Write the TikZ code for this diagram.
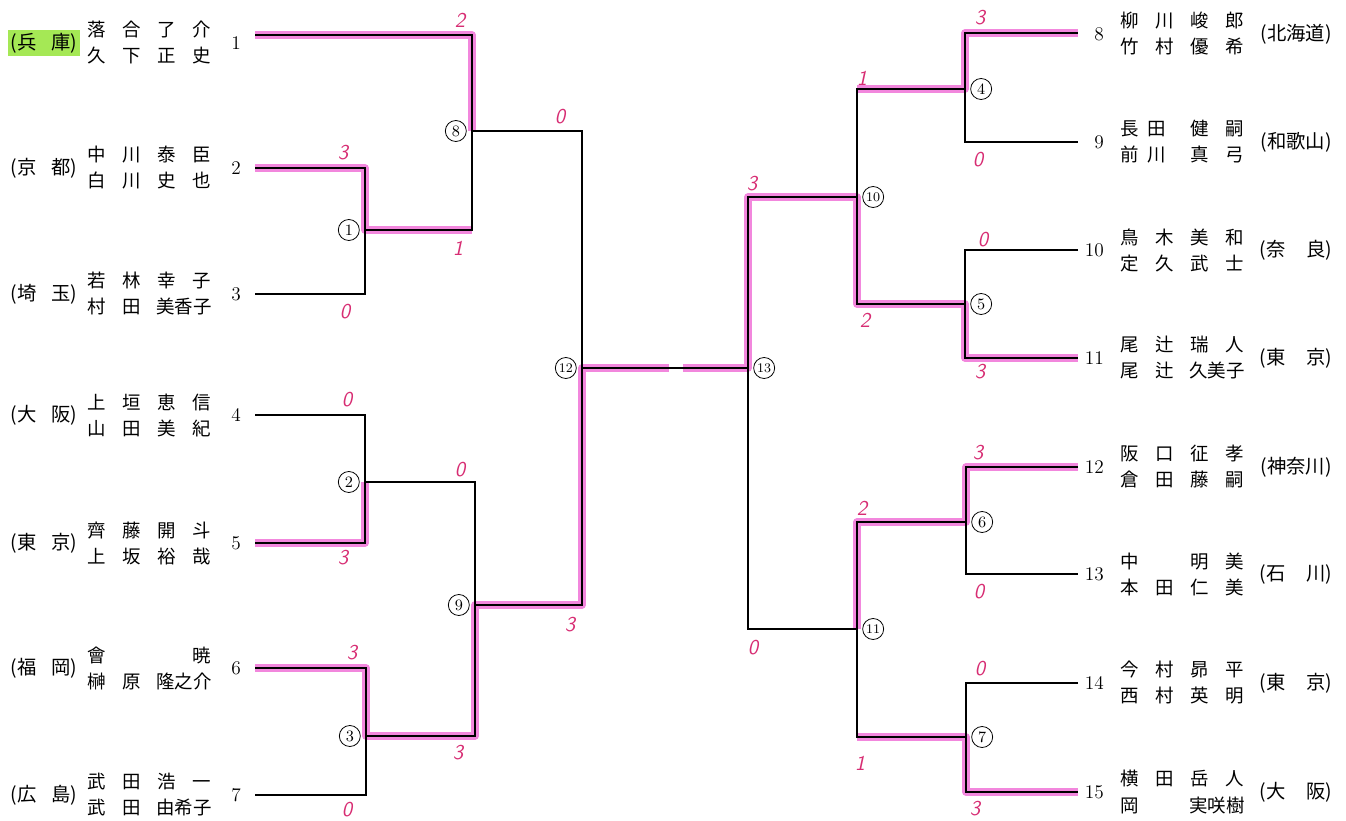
\documentclass[tikz,border=0pt]{standalone}
\usepackage{fontspec}
\usetikzlibrary{positioning}
\newfontfamily\jp{Noto Sans CJK JP}
\definecolor{hlpink}{RGB}{238,95,210}
\definecolor{hlgreen}{RGB}{165,232,85}
\definecolor{score}{RGB}{215,45,115}
\newlength{\cw}
\setlength{\cw}{0.70cm}
\newcommand{\nm}[4]{\makebox[\cw]{#1}\makebox[\cw]{#2}\makebox[\cw]{#3}\makebox[\cw]{#4}}
\newcommand{\nmt}[3]{\makebox[\cw]{#1}\makebox[\cw]{#2}\makebox[2\cw]{#3}}
\newcommand{\nmp}[4]{\makebox[\cw]{#1}\makebox[\cw][l]{#2}\makebox[\cw]{#3}\makebox[\cw]{#4}}
\tikzset{
  bk/.style={line width=0.7pt},
  win/.style={line width=4.2pt, draw=hlpink, opacity=0.75, line join=round},
  mc/.style={circle, draw, line width=0.45pt, minimum size=0.42cm, inner sep=0pt, font=\fontsize{9}{9}\selectfont},
  mcc/.style={mc, font=\fontsize{7.5}{7.5}\selectfont},
  num/.style={font=\fontsize{11}{11}\selectfont, inner sep=1pt},
  nm/.style={font=\jp\fontsize{10.5}{14.8}\selectfont, align=left, inner sep=0pt},
  pf/.style={font=\jp\fontsize{11}{11}\selectfont, inner sep=1.5pt},
  sc/.style={font=\sffamily\itshape\fontsize{12}{12}\selectfont, text=score, inner sep=0pt}
}
\begin{document}
\begin{tikzpicture}[x=0.02cm, y=-0.02cm]
  \useasboundingbox (0,0) rectangle (1346,821);
  % Line ends of the entries
  \foreach \i/\y in {1/35, 2/168, 3/294, 4/415, 5/543, 6/668, 7/795}
    \coordinate (e\i) at (255,\y);
  \foreach \i/\y in {8/33, 9/142, 10/250, 11/358, 12/467, 13/574, 14/683, 15/792}
    \coordinate (e\i) at (1078,\y);
  % Match joints
  \coordinate (j1) at (365,230);
  \coordinate (j2) at (365,482);
  \coordinate (j3) at (366,736);
  \coordinate (j8) at (472,131);
  \coordinate (j9) at (475,605);
  \coordinate (j12) at (582,368);
  \coordinate (j13) at (748,368);
  \coordinate (j10) at (857,197);
  \coordinate (j11) at (857,629);
  \coordinate (j4) at (965,89);
  \coordinate (j5) at (965,304);
  \coordinate (j6) at (966,522);
  \coordinate (j7) at (966,737);
  % Winners, marked by hand
  \draw[win] (e1) -| (j8);
  \draw[win] (e2) -| (j1) -- (j1 -| j8);
  \draw[win] (e5) -| (j2);
  \draw[win] (e6) -| (j3) -| (j9) -| (j12) -- (669,368);
  \draw[win] (683,368) -- (j13) |- (j10) |- (j5) |- (e11);
  \draw[win] (e8) -| (j4) -- (j4 -| j10);
  \draw[win] (e12) -| (j6) -| (j11);
  \draw[win] (e15) -| (j7) -- (j7 -| j11);
  % Left half
  \draw[bk] (e2) -| (j1) |- (e3);
  \draw[bk] (e4) -| (j2) |- (e5);
  \draw[bk] (e6) -| (j3) |- (e7);
  \draw[bk] (e1) -| (j8) |- (j1);
  \draw[bk] (j2) -| (j9) |- (j3);
  \draw[bk] (j8) -| (j12) |- (j9);
  \draw[bk] (j12) -- (j13);
  % Right half
  \draw[bk] (e8) -| (j4) |- (e9);
  \draw[bk] (e10) -| (j5) |- (e11);
  \draw[bk] (e12) -| (j6) |- (e13);
  \draw[bk] (e14) -| (j7) |- (e15);
  \draw[bk] (j4) -| (j10) |- (j5);
  \draw[bk] (j6) -| (j11) |- (j7);
  \draw[bk] (j10) -| (j13) |- (j11);
  % Match numbers
  \foreach \i in {1,2,3,8,9}
    \node[mc, left=3pt of j\i] (c\i) {\i};
  \node[mcc, left=3pt of j12] (c12) {12};
  \foreach \i in {4,5,6,7}
    \node[mc, right=3pt of j\i] (c\i) {\i};
  \foreach \i in {10,11,13}
    \node[mcc, right=3pt of j\i] (c\i) {\i};
  % Entry numbers
  \foreach \i/\y in {1/43, 2/168, 3/294, 4/415, 5/543, 6/668, 7/795}
    \node[num] (n\i) at (236,\y) {\i};
  \foreach \i/\y in {8/34, 9/142, 10/250, 11/358, 12/467, 13/574, 14/683, 15/792}
    \node[num, anchor=east] (n\i) at (1106,\y) {\i};
  % Pairs, left
  \node[nm] (a1) at (149,43) {\nm{落}{合}{了}{介}\\\nm{久}{下}{正}{史}};
  \node[nm] (a2) at (149,168) {\nm{中}{川}{泰}{臣}\\\nm{白}{川}{史}{也}};
  \node[nm] (a3) at (149,294) {\nm{若}{林}{幸}{子}\\\nmt{村}{田}{美香子}};
  \node[nm] (a4) at (149,415) {\nm{上}{垣}{恵}{信}\\\nm{山}{田}{美}{紀}};
  \node[nm] (a5) at (149,543) {\nm{齊}{藤}{開}{斗}\\\nm{上}{坂}{裕}{哉}};
  \node[nm] (a6) at (149,668) {\nm{會}{}{}{暁}\\\nmt{榊}{原}{隆之介}};
  \node[nm] (a7) at (149,795) {\nm{武}{田}{浩}{一}\\\nmt{武}{田}{由希子}};
  % Pairs, right
  \node[nm] (a8) at (1182,34) {\nm{柳}{川}{峻}{郎}\\\nm{竹}{村}{優}{希}};
  \node[nm] (a9) at (1182,142) {\nmp{長}{田}{健}{嗣}\\\nmp{前}{川}{真}{弓}};
  \node[nm] (a10) at (1182,250) {\nm{鳥}{木}{美}{和}\\\nm{定}{久}{武}{士}};
  \node[nm] (a11) at (1182,358) {\nm{尾}{辻}{瑞}{人}\\\nmt{尾}{辻}{久美子}};
  \node[nm] (a12) at (1182,467) {\nm{阪}{口}{征}{孝}\\\nm{倉}{田}{藤}{嗣}};
  \node[nm] (a13) at (1182,574) {\nm{中}{}{明}{美}\\\nm{本}{田}{仁}{美}};
  \node[nm] (a14) at (1182,683) {\nm{今}{村}{昴}{平}\\\nm{西}{村}{英}{明}};
  \node[nm] (a15) at (1182,792) {\nm{横}{田}{岳}{人}\\\nmt{岡}{}{実咲樹}};
  % Prefectures
  \node[pf, fill=hlgreen] (p1) at (44,43) {(兵\hspace{0.75em}庫)};
  \foreach \i/\y/\a/\b in {2/168/京/都, 3/294/埼/玉, 4/415/大/阪, 5/543/東/京, 6/668/福/岡, 7/795/広/島}
    \node[pf] (p\i) at (44,\y) {(\a\hspace{0.75em}\b)};
  \foreach \i/\y/\t in {8/34/北海道, 9/142/和歌山, 12/467/神奈川}
    \node[pf] (p\i) at (1296,\y) {(\t)};
  \foreach \i/\y/\a/\b in {10/250/奈/良, 11/358/東/京, 13/574/石/川, 14/683/東/京, 15/792/大/阪}
    \node[pf] (p\i) at (1296,\y) {(\a\hspace{1.1em}\b)};
  % Scores, written in by hand
  \foreach \x/\y/\s [count=\k] in {460/20/2, 343/153/3, 345/312/0, 458/248/1, 560/117/0,
      347/400/0, 343/558/3, 460/470/0, 352/653/3, 347/810/0, 458/753/3, 570/625/3,
      980/18/3, 862/78/1, 978/160/0, 752/184/3, 983/240/0, 865/320/2, 980/372/3,
      978/453/3, 862/508/2, 979/592/0, 753/648/0, 980/669/0, 860/763/1, 975/809/3}
    \node[sc] (s\k) at (\x,\y) {\s};
\end{tikzpicture}
\end{document}
